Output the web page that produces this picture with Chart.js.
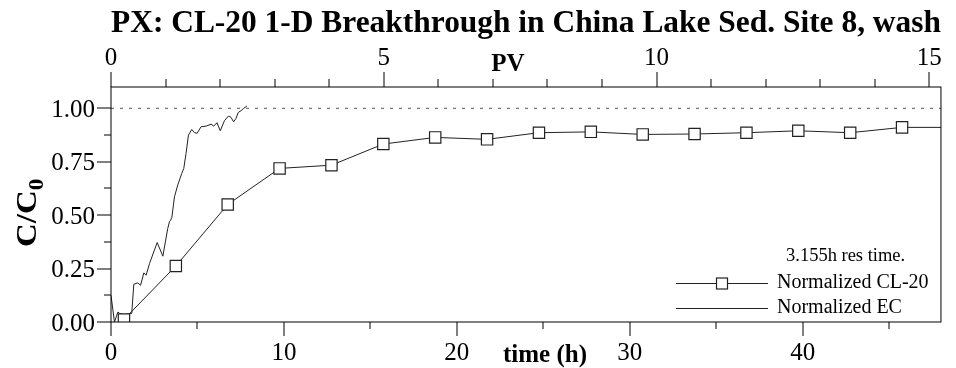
<!DOCTYPE html>
<html>
<head>
<meta charset="utf-8">
<script src="https://cdn.jsdelivr.net/npm/chart.js@4.4.1/dist/chart.umd.min.js"></script>
<style>
  html, body { margin: 0; padding: 0; background: #fff; }
  canvas { display: block; }
</style>
</head>
<body>
<canvas id="chart" width="956" height="368"></canvas>
<script>
const resTime = 3.155; // h per pore volume
const xMax = 48;
const yMax = 1.1;

// CL-20 samples: time (h) and C/C0
const clTime = [0.75, 3.75, 6.75, 9.75, 12.75, 15.75, 18.75, 21.75, 24.75, 27.75,
                30.75, 33.75, 36.75, 39.75, 42.75, 45.75, 48.75];
const clValue = [0.012, 0.262, 0.550, 0.719, 0.734, 0.833, 0.864, 0.855, 0.886, 0.890,
                 0.878, 0.880, 0.886, 0.895, 0.886, 0.911, 0.911];

// electrical conductivity trace
const ecTime = [0, 0.2, 0.4, 0.5, 0.75, 1.2, 1.32, 1.55, 1.71, 1.9, 2.03, 2.23, 2.67,
                3.0, 3.28, 3.38, 3.45, 3.52, 3.67, 3.86, 4.09, 4.21, 4.34, 4.48, 4.67,
                4.82, 4.98, 5.21, 5.5, 5.79, 5.94, 6.13, 6.32, 6.56, 6.79, 6.94, 7.09,
                7.23, 7.36, 7.52, 7.67, 7.86];
const ecValue = [0.125, 0.0, 0.047, 0.04, 0.035, 0.04, 0.177, 0.183, 0.172, 0.23, 0.219,
                 0.274, 0.372, 0.308, 0.437, 0.469, 0.477, 0.49, 0.586, 0.641, 0.695,
                 0.719, 0.789, 0.875, 0.901, 0.887, 0.883, 0.914, 0.917, 0.926, 0.917,
                 0.933, 0.895, 0.942, 0.964, 0.958, 0.937, 0.953, 0.981, 0.989, 1.0, 1.011];

// C/C0 = 1 reference
const refTime = [0, xMax];
const refValue = [1, 1];

const serif = '"Liberation Serif", "Times New Roman", serif';
const titleSize = 31.5;
const titlePad = 5;
const titleH = titleSize * 1.2 + titlePad;
const toPoints = (xs, ys) => xs.map((x, i) => ({ x: x, y: ys[i] }));
const near = (v, step) => Math.abs(v / step - Math.round(v / step)) < 1e-6;

// frame, tick marks, axis titles and the legend box
const decor = {
  id: 'decor',
  afterDraw(chart) {
    const { ctx, chartArea: a, scales } = chart;
    ctx.save();
    ctx.strokeStyle = '#000';
    ctx.lineWidth = 1;
    ctx.strokeRect(a.left, a.top, a.right - a.left, a.bottom - a.top);

    const seg = (x1, y1, x2, y2) => {
      ctx.beginPath(); ctx.moveTo(x1, y1); ctx.lineTo(x2, y2); ctx.stroke();
    };
    scales.x.ticks.forEach(t => {
      const p = Math.round(scales.x.getPixelForValue(t.value));
      seg(p, a.bottom, p, a.bottom + (near(t.value, 10) ? 14 : 7));
    });
    scales.pv.ticks.forEach(t => {
      const p = Math.round(scales.pv.getPixelForValue(t.value));
      seg(p, a.top, p, a.top - (near(t.value, 5) ? 15 : 8));
    });
    scales.y.ticks.forEach(t => {
      const p = Math.round(scales.y.getPixelForValue(t.value));
      seg(a.left, p, a.left - (near(t.value, 0.25) ? 14 : 7), p);
    });

    ctx.fillStyle = '#000';
    ctx.textBaseline = 'alphabetic';
    ctx.textAlign = 'center';
    ctx.font = 'bold 25px ' + serif;
    ctx.fillText('PV', 508, 71);
    ctx.fillText('time (h)', 545, 362);

    // rotated y title with subscript
    ctx.save();
    ctx.translate(36, 247);
    ctx.rotate(-Math.PI / 2);
    ctx.scale(1.1, 1);
    ctx.textAlign = 'left';
    ctx.font = 'bold 30px ' + serif;
    ctx.fillText('C/C', 0, 0);
    const w = ctx.measureText('C/C').width;
    ctx.font = 'bold 21px ' + serif;
    ctx.fillText('0', w, 7);
    ctx.restore();

    // legend
    const cl = chart.data.datasets[0];
    const ec = chart.data.datasets[1];
    ctx.textAlign = 'left';
    ctx.font = '18.5px ' + serif;
    ctx.fillText('3.155h res time.', 786, 261);
    ctx.lineWidth = 1;
    ctx.strokeStyle = cl.borderColor;
    seg(676, 283.5, 768, 283.5);
    ctx.fillStyle = cl.pointBackgroundColor;
    ctx.strokeStyle = cl.pointBorderColor;
    ctx.lineWidth = cl.pointBorderWidth;
    ctx.fillRect(716.5, 278, 11, 11);
    ctx.strokeRect(716.5, 278, 11, 11);
    ctx.lineWidth = 1;
    ctx.strokeStyle = ec.borderColor;
    seg(676, 308.5, 768, 308.5);
    ctx.fillStyle = '#000';
    ctx.font = '20px ' + serif;
    ctx.fillText('Normalized CL-20', 777, 288);
    ctx.fillText('Normalized EC', 777, 313);
    ctx.restore();
  }
};

new Chart(document.getElementById('chart'), {
  type: 'scatter',
  data: {
    datasets: [
      {
        label: 'Normalized CL-20',
        data: toPoints(clTime, clValue),
        showLine: true,
        borderColor: '#222',
        borderWidth: 1,
        pointStyle: 'rect',
        pointRadius: 8,
        pointBorderWidth: 1.2,
        pointBorderColor: '#222',
        pointBackgroundColor: '#fff'
      },
      {
        label: 'Normalized EC',
        data: toPoints(ecTime, ecValue),
        showLine: true,
        borderColor: '#222',
        borderWidth: 1,
        pointRadius: 0
      },
      {
        label: 'C/C0 = 1',
        data: toPoints(refTime, refValue),
        showLine: true,
        borderColor: '#777',
        borderWidth: 1.2,
        borderDash: [3, 6],
        pointRadius: 0
      }
    ]
  },
  options: {
    responsive: false,
    animation: false,
    devicePixelRatio: 1,
    layout: { padding: { left: 0, right: 13, top: 0, bottom: 0 } },
    plugins: {
      legend: { display: false },
      tooltip: { enabled: false },
      title: {
        display: true,
        fullSize: false,
        text: 'PX: CL-20 1-D Breakthrough in China Lake Sed. Site 8, wash',
        color: '#000',
        font: { family: serif, size: titleSize, weight: 'bold', lineHeight: 1.2 },
        padding: { top: titlePad, bottom: 0 }
      }
    },
    scales: {
      x: {
        type: 'linear',
        position: 'bottom',
        min: 0, max: xMax,
        grid: { display: false, drawTicks: false },
        border: { display: false },
        ticks: {
          stepSize: 5, includeBounds: false, autoSkip: false, maxRotation: 0,
          padding: 16, color: '#000',
          font: { family: serif, size: 25 },
          callback: v => near(v, 10) ? String(v) : ''
        },
        afterFit: s => { s.height = 46; }
      },
      pv: {
        type: 'linear',
        position: 'top',
        min: 0, max: xMax / resTime,
        grid: { display: false, drawTicks: false },
        border: { display: false },
        ticks: {
          stepSize: 1, includeBounds: false, autoSkip: false, maxRotation: 0,
          padding: 14, color: '#000',
          font: { family: serif, size: 25 },
          callback: v => near(v, 5) ? String(v) : ''
        },
        afterFit: s => { s.height = 87 - titleH; }
      },
      y: {
        type: 'linear',
        min: 0, max: yMax,
        grid: { display: false, drawTicks: false },
        border: { display: false },
        ticks: {
          stepSize: 0.125, includeBounds: false, autoSkip: false,
          padding: 16, labelOffset: 2, color: '#000',
          font: { family: serif, size: 25 },
          callback: v => near(v, 0.25) ? v.toFixed(2) : ''
        },
        afterFit: s => { s.width = 111; }
      }
    }
  },
  plugins: [decor]
});
</script>
</body>
</html>
